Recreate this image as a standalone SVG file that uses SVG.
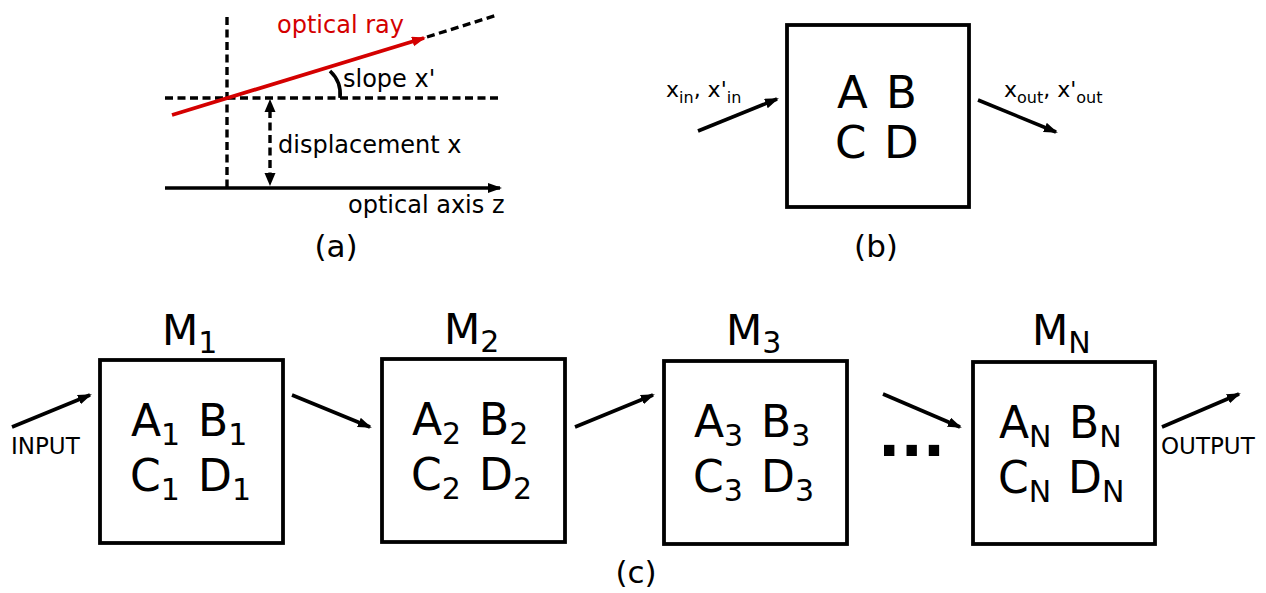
<svg xmlns="http://www.w3.org/2000/svg" width="1266" height="593" viewBox="0 0 1266 593">
<style>
text{font-family:"DejaVu Sans","Liberation Sans",sans-serif;fill:#000}
.box{fill:#fff;stroke:#000;stroke-width:3.8}
.ln{fill:none;stroke:#000;stroke-width:3.6}
.dash{fill:none;stroke:#000;stroke-width:3.4;stroke-dasharray:8,4.5}
.mat{font-size:44px}
.sub{font-size:30px}
.ml{font-size:42px}
.cap{font-size:31px}
.lab{font-size:24px}
</style>
<defs>
<marker id="ah" markerUnits="userSpaceOnUse" markerWidth="16" markerHeight="12" refX="12" refY="5" orient="auto">
<path d="M0,0 L14,5 L0,10 z" fill="#000"/>
</marker>
<marker id="ahr" markerUnits="userSpaceOnUse" markerWidth="16" markerHeight="12" refX="12" refY="5" orient="auto">
<path d="M0,0 L14,5 L0,10 z" fill="#d40000"/>
</marker>
</defs>

<!-- (a) -->
<g id="panel-a">
<line class="dash" x1="227" y1="17" x2="227" y2="187"/>
<line class="dash" x1="165" y1="98" x2="502" y2="98"/>
<line class="ln" x1="165" y1="188" x2="500" y2="188" marker-end="url(#ah)"/>
<line class="dash" x1="270" y1="110" x2="270" y2="176"/>
<path d="M270,99 L264.5,112 L275.5,112 z" fill="#000"/>
<path d="M270,186 L264.5,173 L275.5,173 z" fill="#000"/>
<line x1="172" y1="115" x2="424" y2="38" stroke="#d40000" stroke-width="3.8" marker-end="url(#ahr)"/>
<line class="dash" x1="427" y1="37" x2="497" y2="15"/>
<path class="ln" d="M330,71 A32,32 0 0 1 340,98"/>
<text class="lab" x="277" y="33" style="fill:#d40000">optical ray</text>
<text class="lab" x="343" y="87">slope x'</text>
<text class="lab" x="278" y="153">displacement x</text>
<text class="lab" x="348" y="213">optical axis z</text>
<text class="cap" x="336" y="257" text-anchor="middle">(a)</text>
</g>

<!-- (b) -->
<g id="panel-b">
<rect class="box" x="787" y="25" width="182" height="182"/>
<text style="font-size:45px" x="837" y="108">A</text>
<text style="font-size:45px" x="886" y="108">B</text>
<text style="font-size:45px" x="835" y="158">C</text>
<text style="font-size:45px" x="884" y="158">D</text>
<text style="font-size:22px" x="666" y="97">x<tspan style="font-size:16px" dy="6">in</tspan><tspan dy="-6">, x'</tspan><tspan style="font-size:16px" dy="6">in</tspan></text>
<text style="font-size:22px" x="1004" y="97">x<tspan style="font-size:16px" dy="6">out</tspan><tspan dy="-6">, x'</tspan><tspan style="font-size:16px" dy="6">out</tspan></text>
<text class="cap" x="876" y="257" text-anchor="middle">(b)</text>
</g>

<!-- (c) nodes -->
<g id="M1">
<rect class="box" x="100" y="360" width="183" height="183"/>
<text class="ml" x="162" y="345">M<tspan class="sub" dy="8">1</tspan></text>
<text class="mat" x="131" y="436">A<tspan class="sub" dy="9">1</tspan></text>
<text class="mat" x="198" y="436">B<tspan class="sub" dy="9">1</tspan></text>
<text class="mat" x="130" y="491">C<tspan class="sub" dy="9">1</tspan></text>
<text class="mat" x="198" y="491">D<tspan class="sub" dy="9">1</tspan></text>
</g>
<g id="M2">
<rect class="box" x="382" y="359" width="183" height="183"/>
<text class="ml" x="444" y="344">M<tspan class="sub" dy="8">2</tspan></text>
<text class="mat" x="412" y="435">A<tspan class="sub" dy="9">2</tspan></text>
<text class="mat" x="479" y="435">B<tspan class="sub" dy="9">2</tspan></text>
<text class="mat" x="411" y="490">C<tspan class="sub" dy="9">2</tspan></text>
<text class="mat" x="479" y="490">D<tspan class="sub" dy="9">2</tspan></text>
</g>
<g id="M3">
<rect class="box" x="664" y="361" width="183" height="183"/>
<text class="ml" x="726" y="345">M<tspan class="sub" dy="8">3</tspan></text>
<text class="mat" x="694" y="437">A<tspan class="sub" dy="9">3</tspan></text>
<text class="mat" x="761" y="437">B<tspan class="sub" dy="9">3</tspan></text>
<text class="mat" x="693" y="492">C<tspan class="sub" dy="9">3</tspan></text>
<text class="mat" x="761" y="492">D<tspan class="sub" dy="9">3</tspan></text>
</g>
<g id="MN">
<rect class="box" x="973" y="362" width="182" height="182"/>
<text class="ml" x="1032" y="345">M<tspan class="sub" dy="8">N</tspan></text>
<text class="mat" x="999" y="438">A<tspan class="sub" dy="9">N</tspan></text>
<text class="mat" x="1069" y="438">B<tspan class="sub" dy="9">N</tspan></text>
<text class="mat" x="998" y="493">C<tspan class="sub" dy="9">N</tspan></text>
<text class="mat" x="1068" y="493">D<tspan class="sub" dy="9">N</tspan></text>
</g>
<g id="dots">
<text x="878" y="456" style="font-size:59px;font-weight:bold">...</text>
</g>

<!-- connectors -->
<g id="connectors">
<line class="ln" x1="698" y1="131" x2="777" y2="99" marker-end="url(#ah)"/>
<line class="ln" x1="978" y1="100" x2="1056" y2="132" marker-end="url(#ah)"/>
<line class="ln" x1="12" y1="427" x2="90" y2="395" marker-end="url(#ah)"/>
<line class="ln" x1="292" y1="395" x2="370" y2="427" marker-end="url(#ah)"/>
<line class="ln" x1="575" y1="427" x2="653" y2="395" marker-end="url(#ah)"/>
<line class="ln" x1="883" y1="394" x2="960" y2="427" marker-end="url(#ah)"/>
<line class="ln" x1="1162" y1="427" x2="1239" y2="394" marker-end="url(#ah)"/>
</g>
<text x="11" y="454" style="font-size:23px">INPUT</text>
<text x="1161" y="454" style="font-size:23px">OUTPUT</text>
<text class="cap" x="636" y="583" text-anchor="middle">(c)</text>
</svg>
